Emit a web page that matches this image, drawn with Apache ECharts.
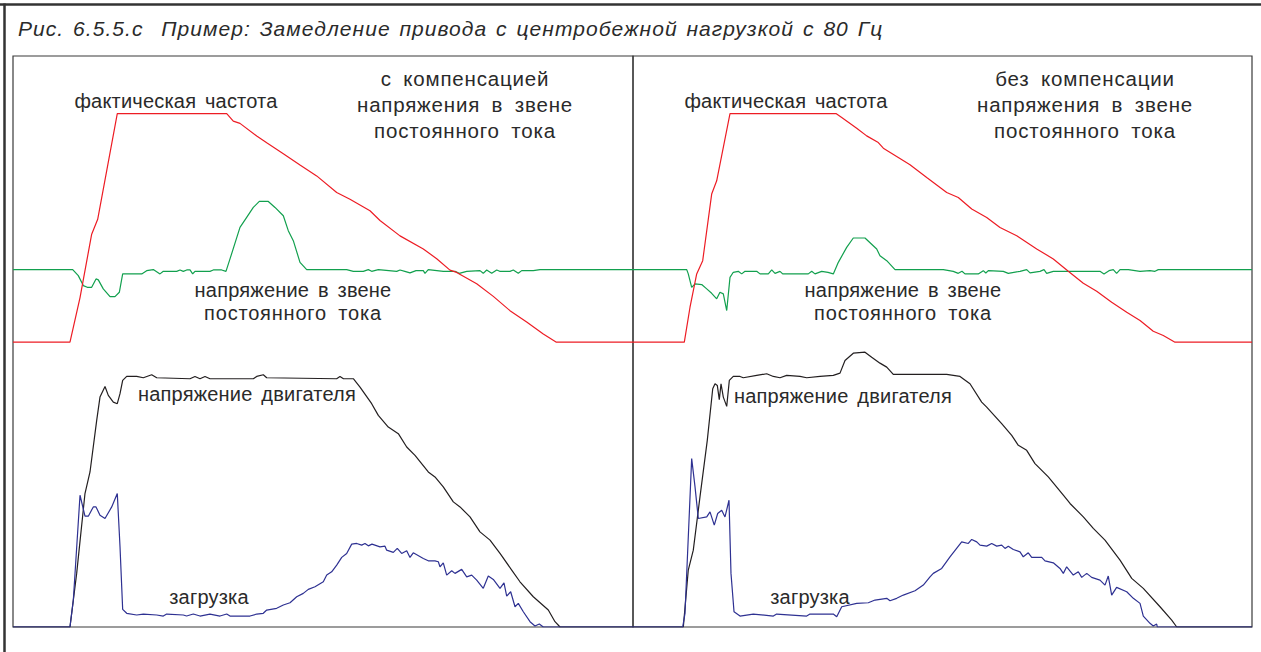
<!DOCTYPE html>
<html>
<head>
<meta charset="utf-8">
<script src="https://cdn.jsdelivr.net/npm/echarts@6/dist/echarts.min.js"></script>
<style>
html,body{margin:0;padding:0;background:#fff;}
#chart{width:1261px;height:652px;}
</style>
</head>
<body>
<div id="chart"></div>
<script>
// time axis 0..100 (% of sweep), value axis 0..100 (% of panel height)
var leftFreq = [[0,49.9],[9.19,49.9],[10.81,57.7],[12.69,68.8],[13.66,71.4],[15.11,79.9],[16.82,89.9],[34.47,89.9],[35.53,88.6],[36.61,88.2],[39.31,86.0],[40.92,84.8],[43.6,82.9],[46.29,80.9],[48.98,79.0],[52.21,76.1],[54.35,74.9],[57.58,72.9],[59.19,71.2],[62.42,68.5],[66.18,66.2],[68.34,64.5],[70.48,62.5],[71.56,62.1],[74.79,60.1],[77.47,57.9],[80.16,55.4],[82.85,53.4],[85.53,51.3],[87.58,49.9],[100,49.9]];
var leftDc = [[0,62.59],[9.63,62.59],[10.53,61.54],[11.34,59.79],[11.98,59.49],[12.69,59.49],[13.39,60.96],[13.76,60.79],[14.56,59.21],[15.65,57.87],[16.45,57.87],[17.15,58.62],[17.69,61.84],[20.76,61.84],[21.56,62.41],[22.63,62.59],[23.71,61.84],[24.24,62.29],[26.4,62.29],[26.94,62.53],[27.47,62.29],[28.02,62.53],[28.55,62.53],[28.98,61.84],[29.35,62.29],[31.77,62.29],[32.31,62.53],[33.66,62.53],[34.35,62.29],[35.0,64.46],[36.61,69.98],[37.69,71.73],[38.76,73.48],[39.73,74.53],[41.18,74.53],[42.26,73.48],[43.6,72.03],[44.4,69.41],[45.21,67.66],[46.29,63.86],[47.37,62.59],[53.82,62.59],[54.89,62.29],[56.5,62.29],[57.31,62.59],[57.85,62.29],[58.92,62.59],[61.89,62.29],[62.42,62.53],[63.2,62.29],[64.03,62.01],[65.0,62.41],[66.18,62.41],[66.45,61.94],[66.98,62.59],[69.4,62.29],[71.29,62.29],[71.98,61.94],[73.18,62.29],[75.32,62.41],[75.85,61.94],[76.4,62.53],[77.21,61.94],[78.02,62.53],[78.5,62.29],[80.16,62.29],[80.69,62.53],[81.5,61.94],[82.05,62.41],[83.92,62.41],[85.0,62.59],[100,62.59]];
var leftMotor = [[0,0],[9.19,0],[10.27,9.39],[11.61,23.37],[12.42,27.15],[13.5,36.19],[14.03,40.26],[14.84,42.13],[15.37,40.56],[16.18,39.39],[16.82,39.11],[17.26,40.86],[17.69,43.18],[18.34,43.88],[19.95,43.88],[21.02,43.65],[22.37,44.18],[23.18,43.65],[28.55,43.48],[29.35,43.88],[30.16,43.48],[30.97,43.88],[31.77,43.48],[38.76,43.48],[39.31,43.88],[40.37,44.18],[40.92,43.65],[52.2,43.48],[52.74,43.88],[53.3,43.48],[54.89,43.48],[55.97,42.01],[57.85,39.11],[58.92,37.06],[60.53,35.02],[62.15,33.86],[63.5,31.52],[64.84,30.07],[66.98,27.15],[68.06,26.28],[69.4,24.53],[71.02,21.91],[72.1,21.03],[73.71,19.28],[75.32,16.66],[76.94,15.21],[78.55,12.88],[80.44,9.97],[81.77,7.92],[83.92,5.3],[86.34,2.97],[87.42,0.93],[88.23,0],[100,0]];
var leftLoad = [[0,0],[9.19,0],[9.73,4.72],[10.81,23.08],[11.61,19.41],[12.15,19.41],[12.95,21.03],[13.39,21.03],[14.03,19.58],[14.84,19.0],[15.92,21.03],[16.82,23.37],[17.26,14.04],[17.69,3.09],[18.34,2.4],[19.95,2.1],[21.02,2.27],[23.18,2.1],[24.24,1.92],[24.79,2.27],[27.47,2.1],[28.0,1.92],[29.08,2.27],[30.16,1.92],[31.77,2.27],[33.39,1.92],[34.47,2.27],[35.0,1.92],[38.23,1.92],[39.31,2.27],[40.37,2.4],[40.92,2.97],[42.53,3.27],[43.6,3.85],[44.68,4.25],[45.76,5.3],[46.82,5.89],[47.63,6.59],[48.71,7.05],[50.05,7.92],[50.6,9.09],[51.4,9.67],[52.21,10.84],[53.02,12.19],[53.82,12.88],[54.63,14.51],[55.44,14.63],[56.24,14.34],[56.77,14.63],[57.31,14.21],[57.9,14.51],[59.19,14.04],[60.0,14.16],[60.27,13.46],[61.34,13.06],[61.98,13.76],[62.69,12.88],[63.5,13.34],[64.03,12.19],[64.56,12.99],[66.18,12.01],[66.98,11.59],[68.06,11.59],[68.6,11.42],[68.87,10.54],[69.4,11.24],[69.95,9.09],[70.76,9.84],[71.29,9.39],[72.37,10.09],[73.18,8.79],[73.98,9.09],[74.79,8.22],[75.85,6.77],[76.66,8.92],[77.47,8.34],[78.55,6.77],[79.19,7.74],[79.63,5.42],[80.27,6.17],[80.97,3.55],[81.5,4.14],[82.31,2.67],[83.39,0.93],[84.19,0.17],[84.89,0.52],[85.53,0],[100,0]];

var rightFreq = [[0,49.88],[8.29,49.88],[9.21,56.0],[10.29,61.84],[11.26,64.16],[12.71,75.82],[13.52,78.15],[15.67,89.91],[32.79,89.91],[33.72,89.21],[36.14,87.36],[37.75,86.01],[39.63,84.84],[40.44,83.86],[42.86,82.22],[44.75,80.94],[47.45,78.72],[50.68,76.1],[52.55,75.23],[54.72,73.2],[57.14,71.73],[59.29,69.98],[61.99,68.53],[65.22,66.21],[67.9,64.46],[70.32,62.29],[72.75,60.19],[74.91,58.79],[77.33,56.87],[79.76,55.12],[81.91,53.67],[84.05,51.8],[85.67,51.05],[87.56,49.88],[100,49.88]];
var rightDc = [[0,62.59],[8.68,62.59],[8.93,61.84],[9.48,59.49],[10.02,60.08],[11.1,59.97],[11.91,59.21],[12.71,58.44],[13.52,57.47],[14.05,58.62],[14.59,58.34],[15.14,55.42],[15.67,61.24],[16.2,62.12],[17.01,62.29],[17.56,61.84],[18.09,62.29],[19.98,62.29],[20.52,61.84],[21.86,61.84],[22.41,62.53],[22.94,61.94],[23.75,62.29],[24.18,61.84],[28.32,61.84],[28.87,62.29],[29.4,61.84],[30.48,62.29],[31.5,62.1],[32.36,61.84],[33.17,63.86],[34.52,66.49],[35.59,68.13],[37.48,68.13],[39.37,66.21],[39.9,65.03],[40.99,64.16],[42.33,62.59],[50.13,62.59],[51.74,62.29],[52.55,61.94],[53.15,62.29],[53.63,61.84],[55.78,61.84],[56.59,62.41],[57.0,62.0],[57.4,62.41],[59.82,62.29],[60.63,61.94],[62.52,62.29],[63.6,62.59],[64.14,62.01],[65.75,62.29],[66.4,62.59],[66.83,61.94],[67.9,62.29],[75.44,62.29],[76.09,61.84],[76.9,62.41],[77.59,62.59],[78.13,61.94],[78.68,62.59],[80.02,62.59],[81.91,62.29],[83.52,62.41],[84.33,62.29],[84.86,62.59],[100,62.59]];
var rightMotor = [[0,0],[8.13,0],[8.93,9.97],[9.74,13.46],[10.82,22.78],[12.0,32.69],[12.88,41.73],[13.25,42.6],[13.62,42.31],[13.94,39.81],[14.22,42.6],[14.59,40.26],[15.14,38.64],[15.56,43.18],[16.2,43.88],[17.29,43.88],[17.82,43.65],[19.98,44.06],[21.6,44.35],[22.67,43.88],[23.75,43.65],[24.83,44.06],[26.98,43.88],[28.06,43.65],[30.21,43.88],[32.36,44.06],[33.44,44.46],[34.25,46.68],[35.59,47.95],[37.48,48.13],[38.56,47.26],[39.9,46.21],[40.99,45.51],[42.05,44.23],[50.68,44.23],[52.83,43.88],[54.44,42.6],[56.33,39.39],[57.14,38.51],[59.56,35.61],[61.18,33.57],[62.25,31.82],[63.6,30.94],[64.94,28.62],[67.09,26.28],[69.52,23.08],[70.6,21.63],[72.75,19.28],[74.36,17.26],[76.25,15.21],[78.68,11.71],[80.57,8.51],[82.44,6.77],[85.14,3.55],[87.03,1.22],[87.84,0],[100,0]];
var rightLoad = [[0,0],[8.03,0],[8.4,2.4],[9.48,29.49],[10.02,24.53],[10.55,19.0],[11.91,19.28],[12.44,20.16],[13.13,17.83],[13.68,19.88],[14.33,20.45],[14.86,19.28],[15.51,22.2],[15.83,9.39],[16.32,2.67],[17.29,1.92],[19.43,2.27],[22.67,1.92],[23.21,2.27],[28.06,1.92],[28.59,2.27],[32.36,2.27],[32.91,1.8],[33.72,3.55],[36.14,4.14],[38.01,4.25],[39.1,4.72],[40.99,5.02],[41.52,4.6],[42.6,5.02],[43.67,5.59],[45.56,6.35],[46.9,7.34],[47.98,8.79],[48.51,9.39],[49.87,10.26],[51.21,12.29],[53.1,14.91],[54.17,14.63],[54.72,15.33],[55.53,14.91],[56.06,14.34],[57.14,14.16],[57.95,14.63],[58.76,14.16],[59.56,14.34],[60.1,13.76],[60.63,14.16],[61.44,13.58],[62.52,13.16],[63.05,12.29],[63.86,12.99],[64.41,12.19],[66.03,12.19],[66.56,11.59],[67.9,11.24],[68.98,10.26],[69.52,9.39],[70.06,10.54],[71.13,9.09],[71.94,9.67],[72.49,8.69],[73.3,9.39],[74.1,8.69],[75.44,8.22],[76.25,7.34],[76.78,8.92],[77.33,5.59],[78.13,6.94],[79.76,6.17],[80.83,5.02],[81.91,4.14],[82.44,1.92],[83.52,0.65],[84.05,0.17],[84.6,0.52],[84.7,0],[100,0]];

var titleText = 'Рис. 6.5.5.c  Пример: Замедление привода с центробежной нагрузкой с 80 Гц';
var leftHeading = ['с компенсацией', 'напряжения в звене', 'постоянного тока'];
var rightHeading = ['без компенсации', 'напряжения в звене', 'постоянного тока'];
var labelFreq = 'фактическая частота';
var labelDc = ['напряжение в звене', 'постоянного тока'];
var labelMotor = 'напряжение двигателя';
var labelLoad = 'загрузка';

var RED = '#ed1c24', GREEN = '#12a04e', BLACK = '#231f20', BLUE = '#2e3192';
var TXT = '#2a2a2a';
var FONT = '"Liberation Sans", Arial, sans-serif';

function xAx(i){ return {type:'value', gridIndex:i, min:0, max:100, show:false}; }
function yAx(i){ return {type:'value', gridIndex:i, min:0, max:100, show:false}; }
function ser(data, color, i, z){
  return {type:'line', data:data, xAxisIndex:i, yAxisIndex:i, showSymbol:false, symbol:'none',
    smooth:false, lineStyle:{color:color, width:1.2}, z:z, silent:true, animation:false};
}
function label(text, x, y, size){
  return {type:'text', z:100, style:{text:text, x:x, y:y, fill:TXT, fontSize:size || 20, fontFamily:FONT,
    textAlign:'center', textVerticalAlign:'middle', align:'center', verticalAlign:'middle'}};
}

var graphics = [
  {type:'line', shape:{x1:0, y1:4.5, x2:1261, y2:4.5}, style:{stroke:'#333', lineWidth:2.5}, z:50},
  {type:'line', shape:{x1:4.5, y1:3.5, x2:4.5, y2:652}, style:{stroke:'#333', lineWidth:2.5}, z:50},
  {type:'text', z:100, style:{text:titleText, x:18, y:28, fill:TXT, fontSize:21, fontStyle:'italic',
    fontFamily:FONT, textAlign:'left', textVerticalAlign:'middle', align:'left', verticalAlign:'middle'}},
  label(labelFreq, 176, 101),
  label(labelFreq, 786, 101),
  label(leftHeading[0], 465, 78, 20.5), label(leftHeading[1], 465, 104, 20.5), label(leftHeading[2], 465, 130, 20.5),
  label(rightHeading[0], 1085, 78, 20.5), label(rightHeading[1], 1085, 104, 20.5), label(rightHeading[2], 1085, 130, 20.5),
  label(labelDc[0], 293, 290), label(labelDc[1], 293, 313),
  label(labelDc[0], 903, 290), label(labelDc[1], 903, 313),
  label(labelMotor, 247, 394),
  label(labelMotor, 843, 396),
  label(labelLoad, 209, 597),
  label(labelLoad, 810, 597)
];

var chart = echarts.init(document.getElementById('chart'), null, {renderer:'svg'});
chart.setOption({
  animation:false,
  backgroundColor:'#fff',
  grid:[
    {left:13, top:56, width:620, height:571, show:true, borderColor:'#3a3a3a', borderWidth:1.2, backgroundColor:'transparent'},
    {left:633, top:56, width:619, height:571, show:true, borderColor:'#3a3a3a', borderWidth:1.2, backgroundColor:'transparent'}
  ],
  xAxis:[xAx(0), xAx(1)],
  yAxis:[yAx(0), yAx(1)],
  series:[
    ser(leftDc, GREEN, 0, 2), ser(leftFreq, RED, 0, 3), ser(leftMotor, BLACK, 0, 4), ser(leftLoad, BLUE, 0, 5),
    ser(rightDc, GREEN, 1, 2), ser(rightFreq, RED, 1, 3), ser(rightMotor, BLACK, 1, 4), ser(rightLoad, BLUE, 1, 5)
  ],
  graphic:graphics
});

// typographic spacing of the original print (tracking / word spacing)
function applySpacing(){
  var headings = leftHeading.concat(rightHeading);
  var nodes = document.querySelectorAll('#chart text');
  for (var i = 0; i < nodes.length; i++) {
    var t = nodes[i], s = t.textContent;
    t.style.whiteSpace = 'pre';
    t.setAttribute('xml:space', 'preserve');
    if (s === titleText) { t.style.letterSpacing = '1.05px'; t.style.wordSpacing = '2px'; }
    else if (headings.indexOf(s) >= 0) { t.style.letterSpacing = '0.8px'; t.style.wordSpacing = '5px'; }
    else { t.style.letterSpacing = '0.2px'; t.style.wordSpacing = '3px'; }
  }
}
applySpacing();
chart.on('finished', applySpacing);
</script>
</body>
</html>
